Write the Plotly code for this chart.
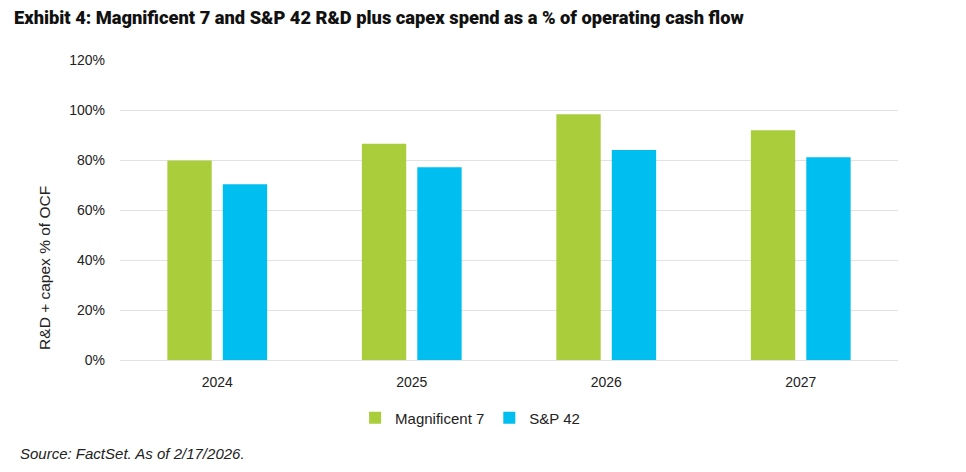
import plotly.graph_objects as go

years = ["2024", "2025", "2026", "2027"]
mag7 = [79.8, 86.5, 98.3, 91.9]
sp42 = [70.3, 77.1, 84.0, 81.1]
y_ticks = [0, 20, 40, 60, 80, 100, 120]
y_tick_labels = ["0%", "20%", "40%", "60%", "80%", "100%", "120%"]

fig = go.Figure()
fig.add_trace(go.Bar(name="Magnificent 7", x=years, y=mag7, marker_color="#A9CD3B",
                     marker_line_width=0))
fig.add_trace(go.Bar(name="S&P 42", x=years, y=sp42, marker_color="#00BEF0",
                     marker_line_width=0))

fig.update_layout(
    width=966, height=472,
    margin=dict(l=112, r=76, t=52, b=120),
    paper_bgcolor="white", plot_bgcolor="white",
    barmode="group", bargap=0.43, bargroupgap=0.2,
    font=dict(family="Liberation Sans, Arial, sans-serif", size=14, color="#222222"),
    title=dict(text="Exhibit 4: Magnificent 7 and S&P 42 R&D plus capex spend as a % of operating cash flow",
               x=0.0062, xanchor="left", y=0.979, yanchor="middle",
               font=dict(family="Roboto, sans-serif", size=18.3, color="#111111", weight=900)),
    legend=dict(orientation="h", x=0.45, xanchor="center", y=-0.193, yanchor="middle",
                font=dict(size=15, color="#222222"), itemwidth=30, traceorder="normal"),
    showlegend=True,
)
fig.update_xaxes(showgrid=False, showline=False, ticks="", ticklabelstandoff=12,
                 tickfont=dict(size=14, color="#222222"))
fig.update_yaxes(range=[0, 120], tickvals=y_ticks, ticktext=y_tick_labels,
                 showgrid=True, gridcolor="#E2E2E2", gridwidth=1, zeroline=True,
                 zerolinecolor="#E2E2E2", zerolinewidth=1,
                 ticks="", ticklabelstandoff=14, tickfont=dict(size=14, color="#222222"))

fig.add_annotation(text="R&D + capex % of OCF", xref="paper", yref="paper",
                   x=-0.0964, y=0.307, xanchor="center", yanchor="middle", textangle=-90,
                   showarrow=False, font=dict(size=15.5, color="#222222"))

fig.add_annotation(text="<i>Source: FactSet. As of 2/17/2026.</i>", xref="paper", yref="paper",
                   x=-0.131, y=-0.31, xanchor="left", yanchor="middle", showarrow=False,
                   font=dict(size=15, color="#222222"))

fig.write_html("out.html")
